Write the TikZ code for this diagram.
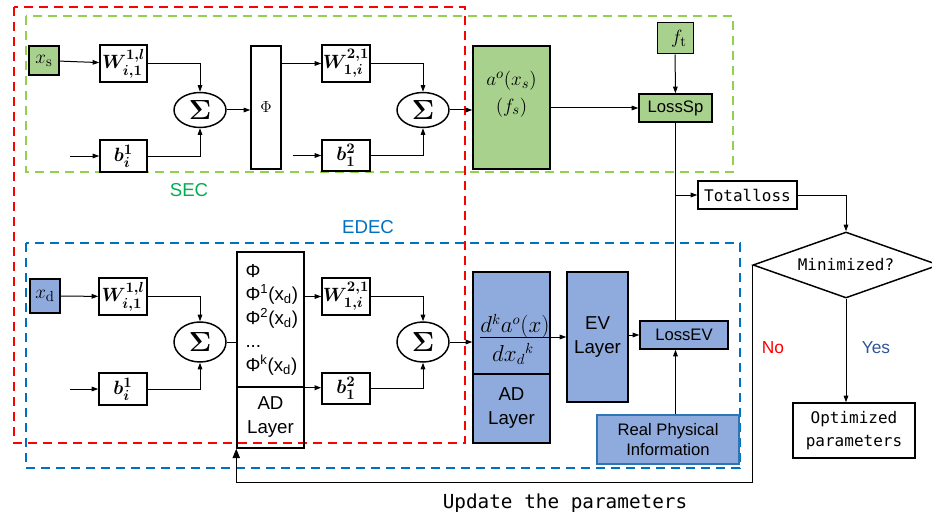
\documentclass[tikz,border=0pt]{standalone}
\usepackage[no-math]{fontspec}
\usepackage{amsmath}
\setmainfont{Liberation Sans}
\newfontfamily\cnmono{DejaVu Sans Mono}
\usetikzlibrary{arrows.meta,shapes.geometric,calc}

\definecolor{secfill}{RGB}{169,209,142}
\definecolor{edecfill}{RGB}{143,170,220}
\definecolor{redline}{RGB}{255,0,0}
\definecolor{secline}{RGB}{146,208,80}
\definecolor{edecline}{RGB}{0,112,192}
\definecolor{sectext}{RGB}{0,176,80}
\definecolor{rpiline}{RGB}{46,117,182}
\definecolor{yestext}{RGB}{47,85,151}

\newcommand{\wfont}{\fontsize{15.5}{18}\selectfont}
\newcommand{\labfont}{\fontsize{12.5}{15}\selectfont}
\newcommand{\layfont}{\fontsize{14}{18}\selectfont}

\tikzset{every picture/.style={line width=0.75pt}}

\begin{document}
\begin{tikzpicture}[x=0.75pt,y=0.75pt,yscale=-1,xscale=1,
  blk/.style={draw, line width=1.1pt, inner sep=0pt, align=center},
  thin/.style={draw, line width=0.75pt, inner sep=0pt, align=center},
  sz/.style 2 args={minimum width=#1*0.75pt, minimum height=#2*0.75pt},
  sumnode/.style={draw, ellipse, line width=1.1pt, inner sep=0pt},
  arr/.style={-{Triangle[length=5pt,width=3.5pt]}},
  bigarr/.style={-{Triangle[length=7pt,width=5.5pt]}},
  region/.style={line width=1.1pt, dash pattern={on 6.75pt off 4.5pt}}]
  \useasboundingbox (0,0) rectangle (932,517);

  %Dashed frames
  \draw [region, draw=redline] (14,7) rectangle (465,443);
  \draw [region, draw=secline] (26,16) rectangle (733,172);
  \draw [region, draw=edecline] (26,243) rectangle (740,468);

  % Text Node
  \node [text=sectext, font=\fontsize{14}{16}\selectfont] (sec) at (189,190) {SEC};
  \node [text=edecline, font=\fontsize{14}{16}\selectfont] (edec) at (368,227) {EDEC};

  %SEC branch
  \node [blk, sz={30}{29}, fill=secfill, font=\wfont] (xs) at (44,60.5) {$x_{\mathrm{s}}$};
  \node [blk, sz={47}{37}, font=\wfont] (w1s) at (123.5,63.5) {$\boldsymbol{W^{1,l}_{i,1}}$};
  \node [blk, sz={47}{32}, font=\wfont] (b1s) at (123.5,156) {$\boldsymbol{b^{1}_{i}}$};
  \node [sumnode, sz={52}{35}, font=\fontsize{20}{22}\selectfont] (sum1s) at (200,110) {$\boldsymbol{\Sigma}$};
  \node [blk, sz={30}{123}, font=\fontsize{13}{15}\selectfont] (phis) at (266,107.5) {$\Phi$};
  \node [blk, sz={48}{37}, font=\wfont] (w2s) at (346,63.5) {$\boldsymbol{W^{2,1}_{1,i}}$};
  \node [blk, sz={48}{31}, font=\wfont] (b2s) at (346,155.5) {$\boldsymbol{b^{2}_{1}}$};
  \node [sumnode, sz={52}{35}, font=\fontsize{20}{22}\selectfont] (sum2s) at (423,110) {$\boldsymbol{\Sigma}$};
  \node [blk, sz={77}{123}, fill=secfill, font=\fontsize{15.5}{20}\selectfont] (aos) at (511.5,107.5) {$a^{o}(x_{s})$\\$(f_{s})$\\[4pt]};
  \node [thin, sz={36}{31}, fill=secfill, font=\wfont] (ft) at (675,38.5) {\hspace{6pt}$f_{\mathrm{t}}$};
  \node [blk, sz={73}{28}, fill=secfill, font=\labfont] (losssp) at (675.5,108) {LossSp};

  \coordinate (ins) at (70,156);
  \coordinate (in2s) at (293,155.5);
  \draw [arr] (xs) -- (w1s);
  \draw [arr] (w1s) -| (sum1s);
  \draw [arr] (ins) -- (b1s);
  \draw [arr] (b1s) -| (sum1s);
  \draw [arr] (sum1s.east) -- (sum1s.east -| phis.west);
  \draw [arr] (w2s.west -| phis.east) -- (w2s.west);
  \draw [arr] (in2s) -- (b2s);
  \draw [arr] (w2s) -| (sum2s);
  \draw [arr] (b2s) -| (sum2s);
  \draw [arr] (sum2s.east) -- (sum2s.east -| aos.west);
  \draw [arr] (aos.east |- losssp) -- (losssp.west);
  \draw [arr] (ft) -- (losssp);

  %EDEC branch
  \node [blk, sz={30}{34}, fill=edecfill, font=\wfont] (xd) at (45,296) {$x_{\mathrm{d}}$};
  \node [blk, sz={48}{37}, font=\wfont] (w1d) at (123,296.5) {$\boldsymbol{W^{1,l}_{i,1}}$};
  \node [blk, sz={48}{32}, font=\wfont] (b1d) at (123,389) {$\boldsymbol{b^{1}_{i}}$};
  \node [sumnode, sz={52}{40}, font=\fontsize{20}{22}\selectfont] (sum1d) at (200,342) {$\boldsymbol{\Sigma}$};
  \node [blk, sz={67}{135}] (phid) at (270.5,319.5) {};
  \node [blk, sz={67}{61}, font=\layfont] (adl) at (270.5,417.5) {AD\\Layer};
  \node [anchor=north west, align=left, inner sep=0pt, font=\fontsize{14}{17.6}\selectfont] (phitxt) at (245,264)
    {Φ\\Φ\textsuperscript{1}(x\textsubscript{d})\\Φ\textsuperscript{2}(x\textsubscript{d})\\...\\Φ\textsuperscript{k}(x\textsubscript{d})};
  \node [blk, sz={48}{37}, font=\wfont] (w2d) at (346,296.5) {$\boldsymbol{W^{2,1}_{1,i}}$};
  \node [blk, sz={48}{31}, font=\wfont] (b2d) at (346,388.5) {$\boldsymbol{b^{2}_{1}}$};
  \node [sumnode, sz={52}{40}, font=\fontsize{20}{22}\selectfont] (sum2d) at (423,342) {$\boldsymbol{\Sigma}$};
  \node [blk, sz={77}{102}, fill=edecfill] (dkd) at (511.5,323) {};
  \node [blk, sz={77}{69}, fill=edecfill, font=\layfont] (ad2) at (511.5,408.5) {AD\\Layer};
  \node [font=\fontsize{16}{18}\selectfont, inner sep=0pt] (dnum) at (515,326) {$d^{k}a^{o}(x)$};
  \node [font=\fontsize{16}{18}\selectfont, inner sep=0pt] (dden) at (513,354) {$d{x_{d}}^{k}$};
  \node [blk, sz={61}{130}, fill=edecfill, font=\layfont] (ev) at (597.5,337) {EV\\Layer};
  \node [blk, sz={88}{28}, fill=edecfill, font=\labfont] (lossev) at (684,335) {LossEV};
  \node [draw=rpiline, line width=0.9pt, inner sep=0pt, align=center, sz={142}{49}, fill=edecfill, font=\labfont] (rpi) at (668,439.5) {Real Physical\\Information};

  \coordinate (ind) at (70,389);
  \draw [arr] (xd) -- (w1d);
  \draw [arr] (w1d) -| (sum1d);
  \draw [arr] (ind) -- (b1d);
  \draw [arr] (b1d) -| (sum1d);
  \draw (sum1d.east) -- (sum1d.east -| phid.west);
  \draw [arr] (w2d.west -| phid.east) -- (w2d.west);
  \draw [arr, line width=1.1pt] (phid.south east) -- (phid.south east -| b2d.west);
  \draw [arr] (w2d) -| (sum2d);
  \draw [arr] (b2d) -| (sum2d);
  \draw [arr] (sum2d.east) -- (sum2d.east -| dkd.west);
  \draw [arr] (dnum.west |- ev.west) -- (ev.west);
  \draw [arr] (ev.east |- lossev) -- (lossev.west);
  \draw [arr] (rpi.north -| losssp.south) -- (lossev.south -| losssp.south);

  %Loss and decision
  \node [blk, sz={99}{28}, font=\cnmono\fontsize{12}{14}\selectfont] (total) at (747.5,195) {Totalloss};
  \node [draw, diamond, aspect=2.8, line width=1.1pt, inner sep=0pt, sz={186}{66}, font=\cnmono\fontsize{12}{14}\selectfont] (minim) at (846,265) {Minimized?};
  \node [blk, sz={122}{55}, font=\cnmono\fontsize{12}{17}\selectfont] (optim) at (854,430.5) {Optimized\\parameters};
  \node [text=redline, font=\fontsize{13}{15}\selectfont] (no) at (773,348) {No};
  \node [text=yestext, font=\fontsize{13}{15}\selectfont] (yes) at (876,348) {Yes};
  \node [font=\cnmono\fontsize{14.5}{17}\selectfont] (upd) at (565,503) {Update the parameters};

  \coordinate (fb) at (752,482);
  \draw (losssp.south) -- (losssp.south |- lossev.north);
  \draw [arr] (losssp.south |- total) -- (total.west);
  \draw [arr] (total) -| (minim);
  \draw [arr] (minim.south) -- (minim.south |- optim.north);
  \draw [bigarr] (minim.west) -- (minim.west |- fb) -| (adl.south west);

\end{tikzpicture}
\end{document}
